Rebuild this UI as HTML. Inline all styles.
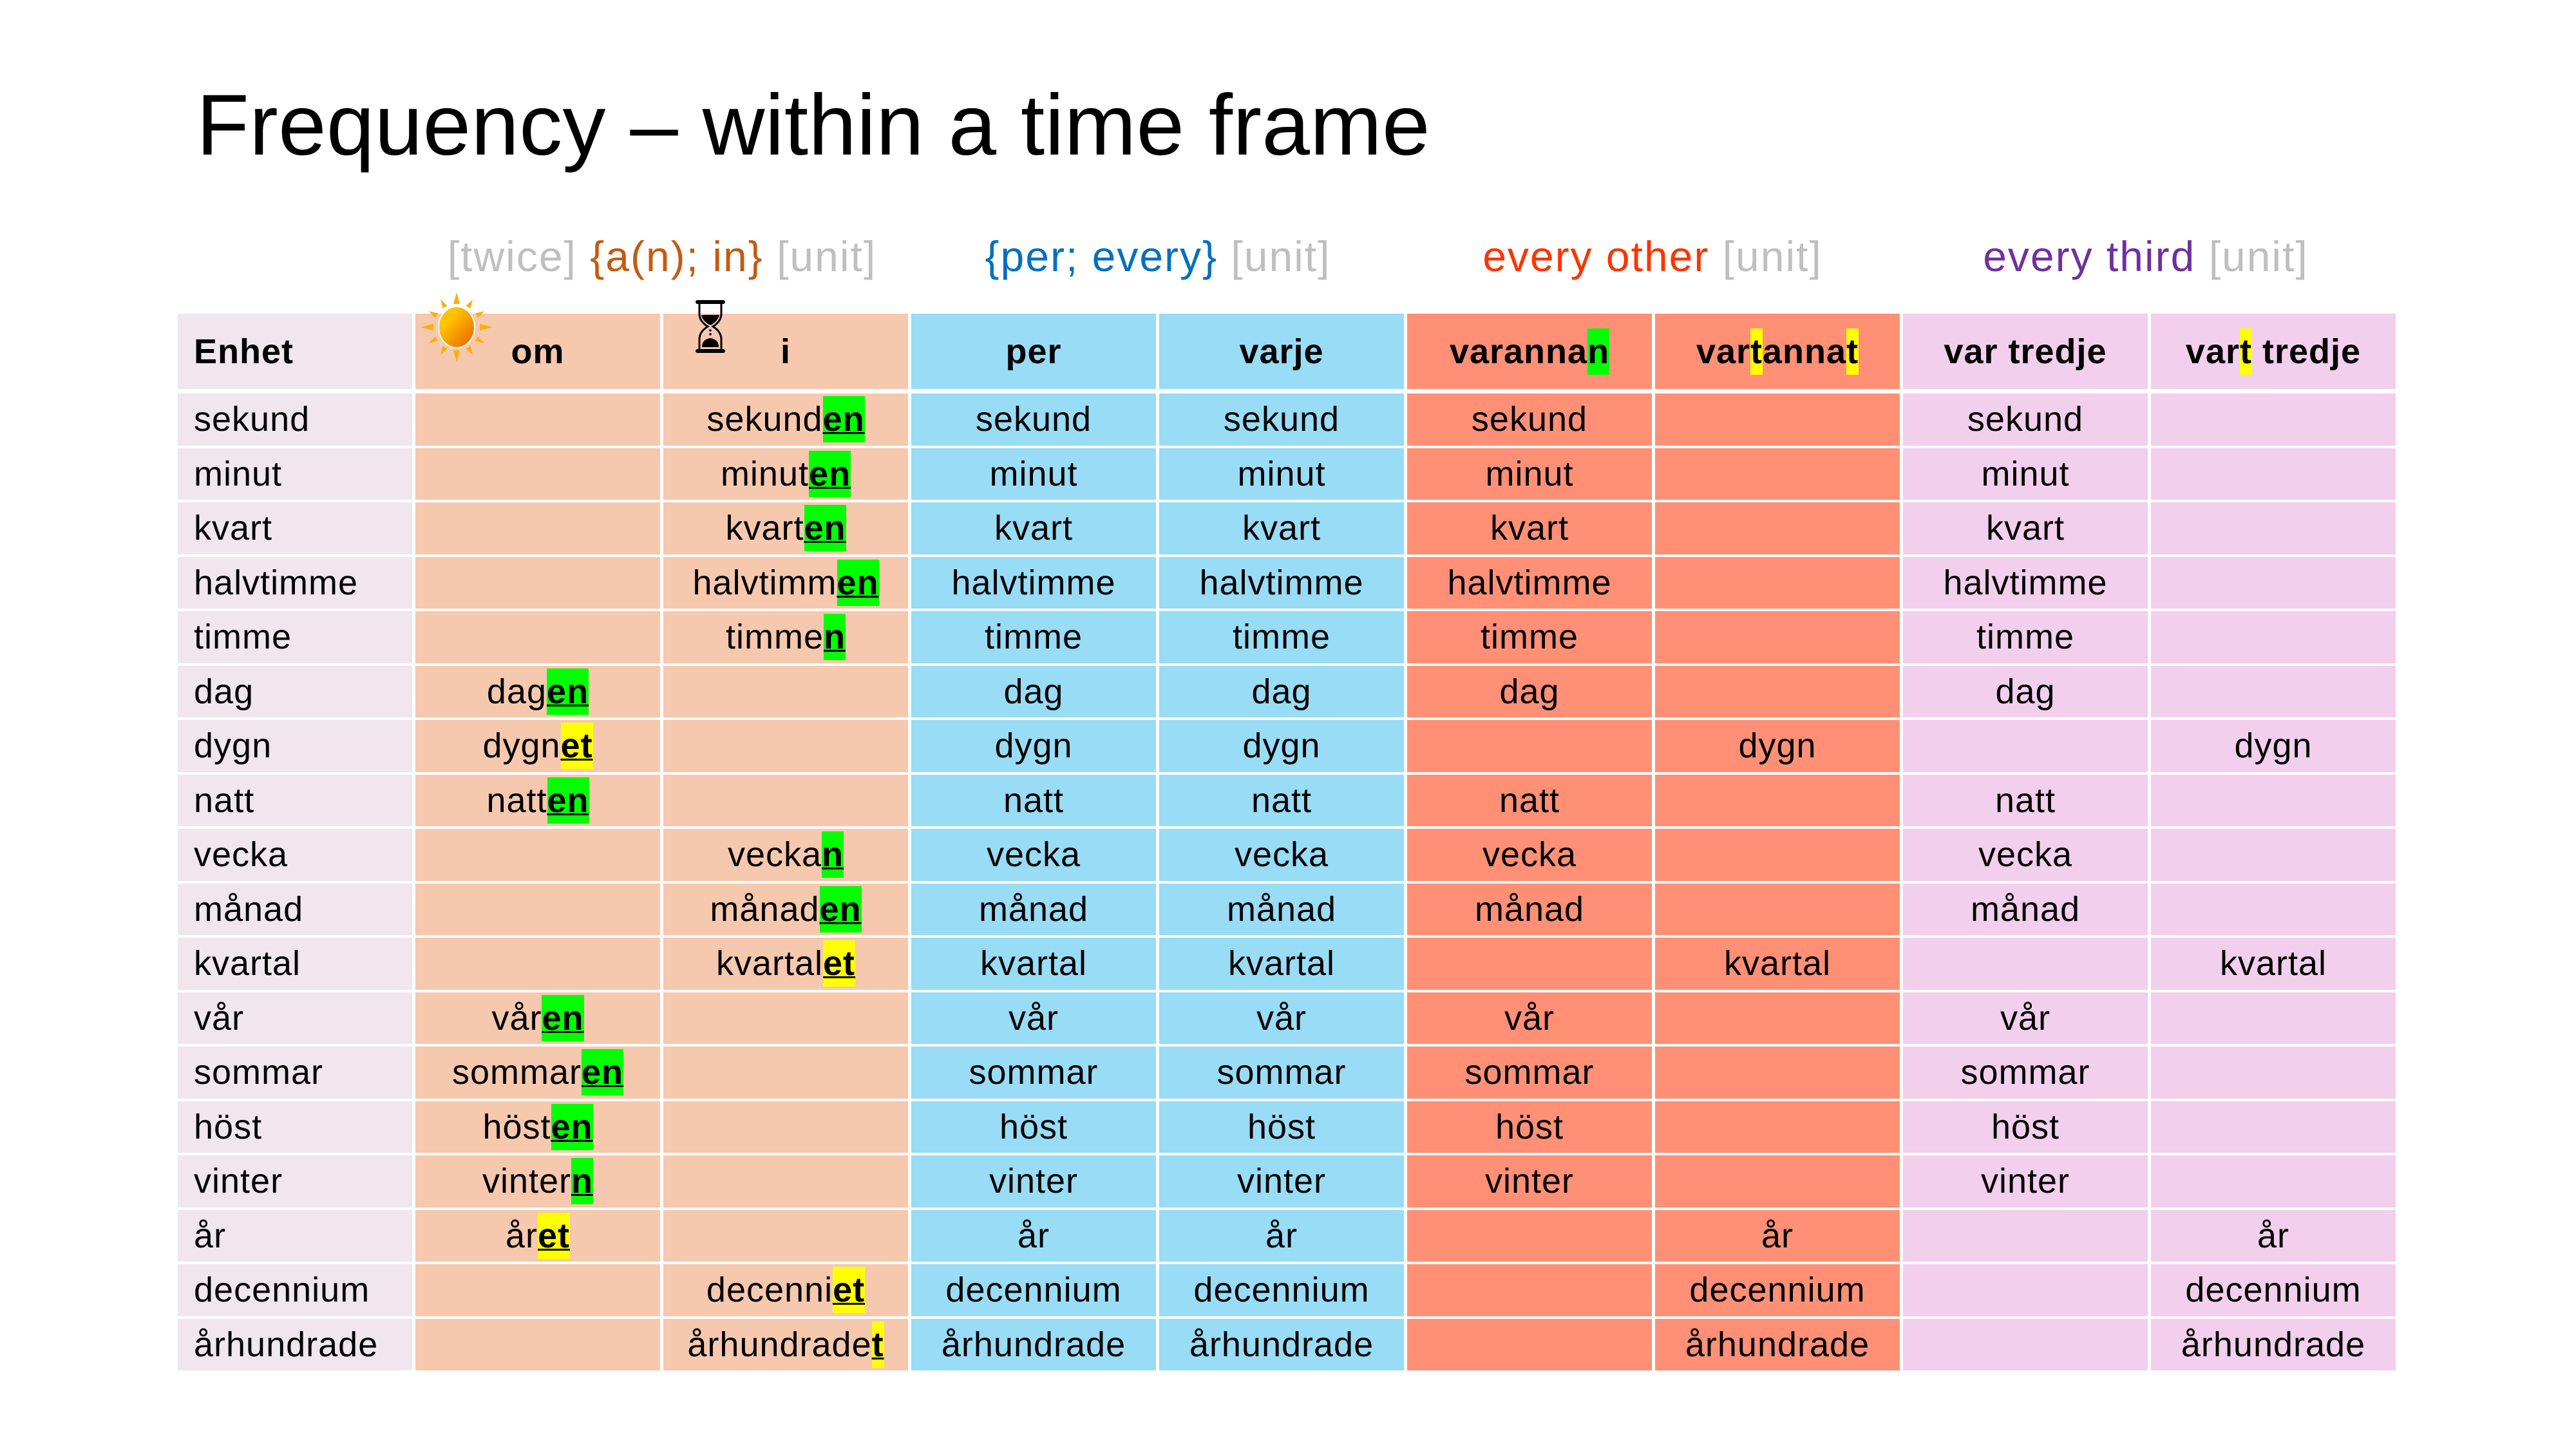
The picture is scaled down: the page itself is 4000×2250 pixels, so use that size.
<!DOCTYPE html>
<html><head><meta charset="utf-8">
<style>
*{margin:0;padding:0;box-sizing:border-box}
html,body{width:4000px;height:2250px;background:#fff;overflow:hidden;font-family:"Liberation Sans",sans-serif;color:#000}
#title{position:absolute;left:305px;top:120px;font-size:134px;line-height:150px;white-space:nowrap;letter-spacing:0.3px}
.sub{position:absolute;top:358px;font-size:66px;line-height:80px;white-space:nowrap;transform:translateX(-50%);letter-spacing:2px}
.gr{color:#bfbfbf}
.grid{position:absolute;left:276px;display:grid;grid-template-columns:364px repeat(8,380px);column-gap:5px;row-gap:4px}
#hdr{top:487px;grid-template-rows:117px}
#body{top:611px;grid-template-rows:repeat(18,80.5px)}
.grid>div{display:flex;align-items:center;justify-content:center;font-size:54px;white-space:nowrap;letter-spacing:1px}
#hdr>div{font-weight:bold}
.grid>div.e{justify-content:flex-start;padding-left:25px;background:#efe6ee}
.a{background:#f6c8ae}.b{background:#98dcf6}.c{background:#ff9076}.d{background:#f1cfed}
.g,.y{font-weight:bold;text-decoration:underline;text-decoration-thickness:3px;display:inline-block;line-height:72px}
.g{background:#00ff00}.y{background:#ffff00}
#hdr .g,#hdr .y{text-decoration:none;line-height:72px}
</style></head><body>
<div id="title">Frequency – within a time frame</div>
<div class="sub" style="left:1028px"><span class="gr">[twice]</span> <span style="color:#c55a11">{a(n); in}</span> <span class="gr">[unit]</span></div>
<div class="sub" style="left:1798px"><span style="color:#0070c0">{per; every}</span> <span class="gr">[unit]</span></div>
<div class="sub" style="left:2566px"><span style="color:#ff3300">every other</span> <span class="gr">[unit]</span></div>
<div class="sub" style="left:3332px"><span style="color:#7030a0">every third</span> <span class="gr">[unit]</span></div>

<div class="grid" id="hdr">
<div class="e">Enhet</div><div class="a">om</div><div class="a">i</div><div class="b">per</div><div class="b">varje</div>
<div class="c"><span>varanna<span class="g">n</span></span></div><div class="c"><span>var<span class="y">t</span>anna<span class="y">t</span></span></div>
<div class="d">var tredje</div><div class="d"><span>var<span class="y">t</span> tredje</span></div>
</div>

<svg style="position:absolute;left:649px;top:452px" width="120" height="112" viewBox="-60 -56 120 112">
<defs><linearGradient id="sg" x1="0" y1="0" x2="1" y2="1"><stop offset="0.3" stop-color="#ffc300"/><stop offset="1" stop-color="#e85d00"/></linearGradient></defs>
<g fill="#f9b000">
<polygon points="-5,-36 0,-54 5,-36"/><polygon points="-5,36 0,54 5,36"/>
<polygon points="-36,-5 -56,0 -36,5"/><polygon points="36,-5 56,0 36,5"/>
<g transform="rotate(30)"><polygon points="-4,-36 0,-50 4,-36"/><polygon points="-4,36 0,50 4,36"/></g>
<g transform="rotate(60)"><polygon points="-4,-36 0,-50 4,-36"/><polygon points="-4,36 0,50 4,36"/></g>
<g transform="rotate(120)"><polygon points="-4,-36 0,-50 4,-36"/><polygon points="-4,36 0,50 4,36"/></g>
<g transform="rotate(150)"><polygon points="-4,-36 0,-50 4,-36"/><polygon points="-4,36 0,50 4,36"/></g>
</g>
<ellipse cx="0" cy="0" rx="28" ry="32" fill="url(#sg)" stroke="#fff" stroke-width="2"/>
</svg>
<svg style="position:absolute;left:1078px;top:465px" width="50" height="84" viewBox="0 0 50 84">
<rect x="2" y="1" width="46" height="6" rx="3" fill="#000"/>
<rect x="2" y="77" width="46" height="6" rx="3" fill="#000"/>
<path d="M8 7 L8 22 Q8 34 21 42 Q8 50 8 62 L8 77 M42 7 L42 22 Q42 34 29 42 Q42 50 42 62 L42 77" fill="none" stroke="#000" stroke-width="3"/>
<path d="M11 24 L39 24 Q37 34 25 40 Q13 34 11 24Z" fill="#000"/>
<path d="M12 74 Q12 62 25 60 Q38 62 38 74Z" fill="#000"/>
<circle cx="25" cy="48" r="1.8"/><circle cx="25" cy="54" r="1.8"/>
</svg>

<div class="grid" id="body">
<div class="e">sekund</div><div class="a"></div><div class="a">sekund<span class="g">en</span></div><div class="b">sekund</div><div class="b">sekund</div><div class="c">sekund</div><div class="c"></div><div class="d">sekund</div><div class="d"></div>
<div class="e">minut</div><div class="a"></div><div class="a">minut<span class="g">en</span></div><div class="b">minut</div><div class="b">minut</div><div class="c">minut</div><div class="c"></div><div class="d">minut</div><div class="d"></div>
<div class="e">kvart</div><div class="a"></div><div class="a">kvart<span class="g">en</span></div><div class="b">kvart</div><div class="b">kvart</div><div class="c">kvart</div><div class="c"></div><div class="d">kvart</div><div class="d"></div>
<div class="e">halvtimme</div><div class="a"></div><div class="a">halvtimm<span class="g">en</span></div><div class="b">halvtimme</div><div class="b">halvtimme</div><div class="c">halvtimme</div><div class="c"></div><div class="d">halvtimme</div><div class="d"></div>
<div class="e">timme</div><div class="a"></div><div class="a">timme<span class="g">n</span></div><div class="b">timme</div><div class="b">timme</div><div class="c">timme</div><div class="c"></div><div class="d">timme</div><div class="d"></div>
<div class="e">dag</div><div class="a">dag<span class="g">en</span></div><div class="a"></div><div class="b">dag</div><div class="b">dag</div><div class="c">dag</div><div class="c"></div><div class="d">dag</div><div class="d"></div>
<div class="e">dygn</div><div class="a">dygn<span class="y">et</span></div><div class="a"></div><div class="b">dygn</div><div class="b">dygn</div><div class="c"></div><div class="c">dygn</div><div class="d"></div><div class="d">dygn</div>
<div class="e">natt</div><div class="a">natt<span class="g">en</span></div><div class="a"></div><div class="b">natt</div><div class="b">natt</div><div class="c">natt</div><div class="c"></div><div class="d">natt</div><div class="d"></div>
<div class="e">vecka</div><div class="a"></div><div class="a">vecka<span class="g">n</span></div><div class="b">vecka</div><div class="b">vecka</div><div class="c">vecka</div><div class="c"></div><div class="d">vecka</div><div class="d"></div>
<div class="e">månad</div><div class="a"></div><div class="a">månad<span class="g">en</span></div><div class="b">månad</div><div class="b">månad</div><div class="c">månad</div><div class="c"></div><div class="d">månad</div><div class="d"></div>
<div class="e">kvartal</div><div class="a"></div><div class="a">kvartal<span class="y">et</span></div><div class="b">kvartal</div><div class="b">kvartal</div><div class="c"></div><div class="c">kvartal</div><div class="d"></div><div class="d">kvartal</div>
<div class="e">vår</div><div class="a">vår<span class="g">en</span></div><div class="a"></div><div class="b">vår</div><div class="b">vår</div><div class="c">vår</div><div class="c"></div><div class="d">vår</div><div class="d"></div>
<div class="e">sommar</div><div class="a">sommar<span class="g">en</span></div><div class="a"></div><div class="b">sommar</div><div class="b">sommar</div><div class="c">sommar</div><div class="c"></div><div class="d">sommar</div><div class="d"></div>
<div class="e">höst</div><div class="a">höst<span class="g">en</span></div><div class="a"></div><div class="b">höst</div><div class="b">höst</div><div class="c">höst</div><div class="c"></div><div class="d">höst</div><div class="d"></div>
<div class="e">vinter</div><div class="a">vinter<span class="g">n</span></div><div class="a"></div><div class="b">vinter</div><div class="b">vinter</div><div class="c">vinter</div><div class="c"></div><div class="d">vinter</div><div class="d"></div>
<div class="e">år</div><div class="a">år<span class="y">et</span></div><div class="a"></div><div class="b">år</div><div class="b">år</div><div class="c"></div><div class="c">år</div><div class="d"></div><div class="d">år</div>
<div class="e">decennium</div><div class="a"></div><div class="a">decenni<span class="y">et</span></div><div class="b">decennium</div><div class="b">decennium</div><div class="c"></div><div class="c">decennium</div><div class="d"></div><div class="d">decennium</div>
<div class="e">århundrade</div><div class="a"></div><div class="a">århundrade<span class="y">t</span></div><div class="b">århundrade</div><div class="b">århundrade</div><div class="c"></div><div class="c">århundrade</div><div class="d"></div><div class="d">århundrade</div>
</div>
</body></html>
